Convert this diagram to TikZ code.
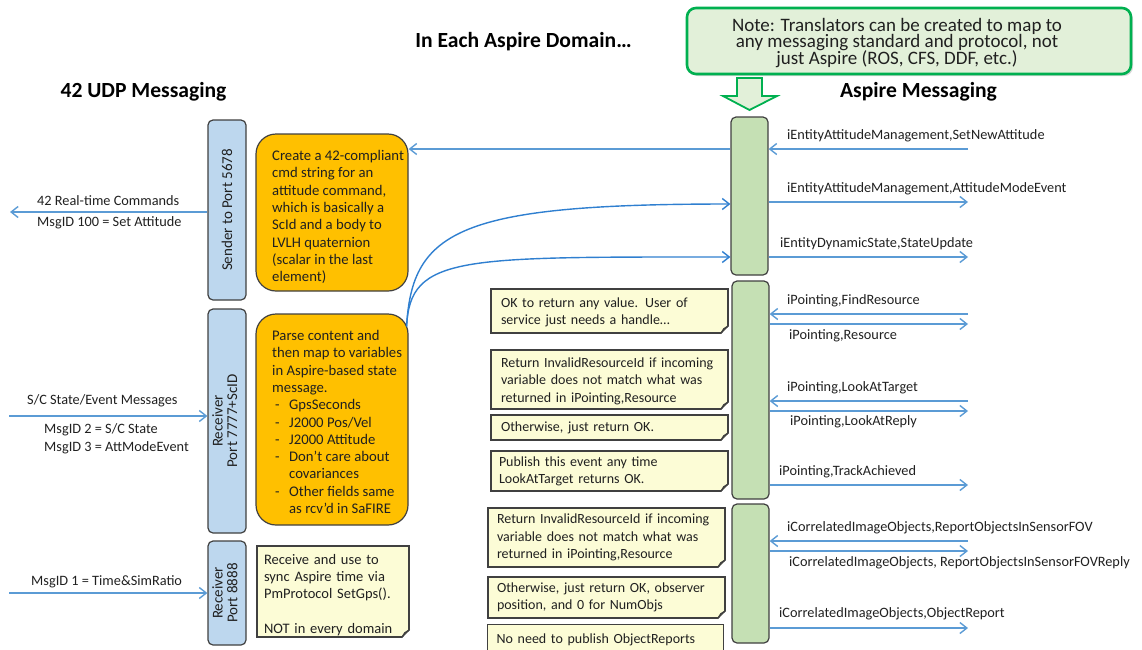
\documentclass[tikz,border=0pt]{standalone}
\usepackage{fontspec}
\setmainfont{Carlito}
\usepackage{graphicx}
\usetikzlibrary{arrows.meta,shadows}

\definecolor{arrowblue}{HTML}{5B9BD5}
\definecolor{curveblue}{HTML}{2F7FD0}
\definecolor{barblue}{HTML}{BDD7EE}
\definecolor{bargreen}{HTML}{C5E0B4}
\definecolor{boxorange}{HTML}{FFC000}
\definecolor{notefill}{HTML}{FCFCD6}
\definecolor{foldshade}{HTML}{CBCAAB}
\definecolor{frame}{HTML}{404040}
\definecolor{calloutgreen}{HTML}{00B050}
\definecolor{calloutfill}{HTML}{E2F0D9}
\definecolor{ink}{HTML}{202020}

% folded bottom-right corner of a sticky note
\newcommand\fold[1]{%
  \fill[white] ([yshift=8pt,xshift=1pt]#1.south east) -- ([xshift=1pt,yshift=-1pt]#1.south east)
    -- ([xshift=-8pt,yshift=-1pt]#1.south east) -- cycle;
  \draw[frame, line width=1.2pt, line join=round]
    ([yshift=8.6pt]#1.south east) -- ([xshift=-8.6pt]#1.south east);
  \filldraw[fill=foldshade, draw=frame, line width=0.9pt, line join=round]
    ([yshift=8pt]#1.south east) -- ([xshift=-8pt]#1.south east)
    -- ([xshift=-5pt,yshift=5pt]#1.south east) -- cycle;
}
\newcommand\tightlines{\setlength{\lineskiplimit}{-10pt}}

\begin{document}
\begin{tikzpicture}[x=1pt, y=-1pt,
  every node/.style={inner sep=0pt, text=ink},
  lbar/.style={draw=frame, fill=barblue, line width=1.2pt, rounded corners=5pt,
    minimum width=38pt, font=\fontsize{15}{14.5}\selectfont},
  gbar/.style={draw=frame, fill=bargreen, line width=1.2pt, rounded corners=5pt,
    minimum width=37pt},
  obox/.style={draw=frame, fill=boxorange, line width=1.2pt, rounded corners=20pt,
    minimum width=152pt},
  sticky/.style={draw=frame, fill=notefill, line width=1.2pt, inner xsep=10pt,
    align=left, font=\fontsize{14}{17.3}\selectfont},
  body/.style={align=left, anchor=west, font=\fontsize{14.7}{17.3}\selectfont},
  lbl/.style={anchor=west, font=\fontsize{14.3}{16}\selectfont},
  side/.style={anchor=west, font=\fontsize{14.3}{18}\selectfont},
  heading/.style={font=\bfseries\fontsize{21.6}{24}\selectfont, text=black},
  msg/.style={draw=arrowblue, line width=1.4pt, -{Straight Barb[length=7pt,width=11pt]}},
  curvemsg/.style={draw=curveblue, line width=1.4pt, -{Straight Barb[length=7pt,width=11pt]}}
]
\useasboundingbox (0,0) rectangle (1142,649);

% headings
\node[heading] (tmain) at (523.5,42) {In Each Aspire Domain…};
\node[heading] (tleft) at (143.5,92) {42 UDP Messaging};
\node[heading] (tright) at (918.5,92) {Aspire Messaging};

% translator note with its arrow
\node[draw=calloutgreen, fill=calloutfill, line width=2.6pt, rounded corners=9pt,
  minimum width=444pt, minimum height=66pt,
  drop shadow={opacity=0.3, shadow xshift=2pt, shadow yshift=-2pt}] (callout) at (909,41) {};
\node[align=center, font={\fontsize{19}{16.8}\selectfont\tightlines}] (callouttext) at (897,43)
  {Note: Translators can be created to map to\\any messaging standard and protocol, not\\just Aspire (ROS, CFS, DDF, etc.)};
\draw[calloutgreen, fill=calloutfill, line width=1.8pt, line join=miter]
  (737,78) -- (762,78) -- (762,96) -- (777,96) -- (749.5,110) -- (723,96) -- (737,96) -- cycle;

% 42 side ports
\node[lbar, minimum height=180pt] (sb) at (227,210)
  {\rotatebox{90}{Sender to Port 5678}};
\node[lbar, minimum height=224pt] (rb1) at (227,421)
  {\rotatebox{90}{\begin{tabular}{@{}c@{}}Receiver\\Port 7777+ScID\end{tabular}}};
\node[lbar, minimum height=104pt] (rb2) at (227,593)
  {\rotatebox{90}{\begin{tabular}{@{}c@{}}Receiver\\Port 8888\end{tabular}}};

% translation steps
\node[obox, minimum height=157pt] (o1) at (332,212.5) {};
\node[body] (o1t) at (272,217) {Create a 42-compliant\\cmd string for an\\attitude command,\\which is basically a\\ScId and a body to\\LVLH quaternion\\(scalar in the last\\element)};
\node[obox, minimum height=211pt] (o2) at (332,419.5) {};
\node[body] (o2t) at (272,422) {Parse content and\\then map to variables\\in Aspire-based state\\message.\\
  \makebox[17pt][l]{\hspace{3pt}-}GpsSeconds\\
  \makebox[17pt][l]{\hspace{3pt}-}J2000 Pos/Vel\\
  \makebox[17pt][l]{\hspace{3pt}-}J2000 Attitude\\
  \makebox[17pt][l]{\hspace{3pt}-}Don’t care about\\
  \hspace*{17pt}covariances\\
  \makebox[17pt][l]{\hspace{3pt}-}Other fields same\\
  \hspace*{17pt}as rcv’d in SaFIRE};

% sticky notes
\node[sticky, inner xsep=7pt, text width=138pt, minimum height=91pt,
  font=\fontsize{14.5}{17.3}\selectfont] (ln) at (333,591.5)
  {\rule{0pt}{17pt}Receive and use to\\sync Aspire time via\\PmProtocol SetGps().\\\mbox{}\\NOT in every domain};
\node[sticky, text width=217pt, minimum height=44pt] (n1) at (609.5,311)
  {\rule{0pt}{13pt}\makebox[179pt][s]{OK to return any value. User of}\\service just needs a handle…};
\node[sticky, text width=217pt, minimum height=59pt] (n2) at (609.5,379.5)
  {\rule{0pt}{13pt}Return InvalidResourceId if incoming\\variable does not match what was\\returned in iPointing,Resource};
\node[sticky, text width=217pt, minimum height=25pt] (n3) at (609.5,427.5)
  {Otherwise, just return OK.};
\node[sticky, inner xsep=8pt, text width=221pt, minimum height=40pt] (n4) at (609.5,471)
  {Publish this event any time\\LookAtTarget returns OK.};
\node[sticky, inner xsep=9pt, text width=219pt, minimum height=59pt] (n5) at (606.5,537.5)
  {Return InvalidResourceId if incoming\\variable does not match what was\\returned in iPointing,Resource};
\node[sticky, inner xsep=9pt, text width=219pt, minimum height=41pt] (n6) at (606.5,597.5)
  {Otherwise, just return OK, observer\\position, and 0 for NumObjs};
\node[sticky, inner xsep=9pt, text width=218pt, minimum height=34pt, anchor=north west] (n7) at (487,624)
  {\raisebox{6pt}{No need to publish ObjectReports}};
\foreach \n in {ln,n1,n2,n3,n4,n5,n6} {\fold{\n}}

% Aspire service endpoints
\node[gbar, minimum height=158pt] (g1) at (749.5,196) {};
\node[gbar, minimum height=218pt] (g2) at (750.5,390) {};
\node[gbar, minimum height=139pt] (g3) at (750.5,573.5) {};

% 42 side messages
\coordinate (cmdout) at (10,212);
\coordinate (statein) at (9,416);
\coordinate (timein) at (9,593);
\draw[msg] (sb.west |- cmdout) -- (cmdout);
\draw[msg] (statein) -- (statein -| rb1.west);
\draw[msg] (timein) -- (timein -| rb2.west);
\node[side] (l1) at (37,201) {42 Real-time Commands};
\node[side] (l2) at (37,223) {MsgID 100 = Set Attitude};
\node[side] (l3) at (27,401) {S/C State/Event Messages};
\node[side, align=left] (l4) at (44,439) {MsgID 2 = S/C State\\MsgID 3 = AttModeEvent};
\node[side] (l5) at (31,582) {MsgID 1 = Time\&SimRatio};

% translations inside the domain
\coordinate (cmdrow) at (0,149);
\draw[msg] (g1.west |- cmdrow) -- (o1.east |- cmdrow);
\coordinate (modeend) at (0,204);
\coordinate (stateend) at (0,257);
\draw[curvemsg] ([xshift=-2pt,yshift=-13pt]o2.north east) .. controls (412,230) and (460,204) .. (g1.west |- modeend);
\draw[curvemsg] ([xshift=-2pt,yshift=-13pt]o2.north east) .. controls (410,255) and (460,257) .. (g1.west |- stateend);

% Aspire side messages
\coordinate (e1) at (968,149);
\coordinate (e2) at (968,202);
\coordinate (e3) at (968,257);
\coordinate (e4) at (968,314);
\coordinate (e5) at (968,324);
\coordinate (e6) at (968,401);
\coordinate (e7) at (968,411);
\coordinate (e8) at (968,485);
\coordinate (e9) at (968,541);
\coordinate (e10) at (968,551);
\coordinate (e11) at (968,628);
\draw[msg] (e1) -- (e1 -| g1.east);
\draw[msg] (e2 -| g1.east) -- (e2);
\draw[msg] (e3 -| g1.east) -- (e3);
\draw[msg] (e4) -- (e4 -| g2.east);
\draw[msg] (e5 -| g2.east) -- (e5);
\draw[msg] (e6) -- (e6 -| g2.east);
\draw[msg] (e7 -| g2.east) -- (e7);
\draw[msg] (e8 -| g2.east) -- (e8);
\draw[msg] (e9) -- (e9 -| g3.east);
\draw[msg] (e10 -| g3.east) -- (e10);
\draw[msg] (e11 -| g3.east) -- (e11);

\node[lbl] (m1) at (787,136) {iEntityAttitudeManagement,SetNewAttitude};
\node[lbl] (m2) at (787,189) {iEntityAttitudeManagement,AttitudeModeEvent};
\node[lbl] (m3) at (780,244) {iEntityDynamicState,StateUpdate};
\node[lbl] (m4) at (787,301) {iPointing,FindResource};
\node[lbl] (m5) at (789,336) {iPointing,Resource};
\node[lbl] (m6) at (787,388) {iPointing,LookAtTarget};
\node[lbl] (m7) at (790,422) {iPointing,LookAtReply};
\node[lbl] (m8) at (779,472) {iPointing,TrackAchieved};
\node[lbl] (m9) at (787,528) {iCorrelatedImageObjects,ReportObjectsInSensorFOV};
\node[lbl] (m10) at (789,563) {iCorrelatedImageObjects, ReportObjectsInSensorFOVReply};
\node[lbl] (m11) at (779,614) {iCorrelatedImageObjects,ObjectReport};
\end{tikzpicture}
\end{document}
